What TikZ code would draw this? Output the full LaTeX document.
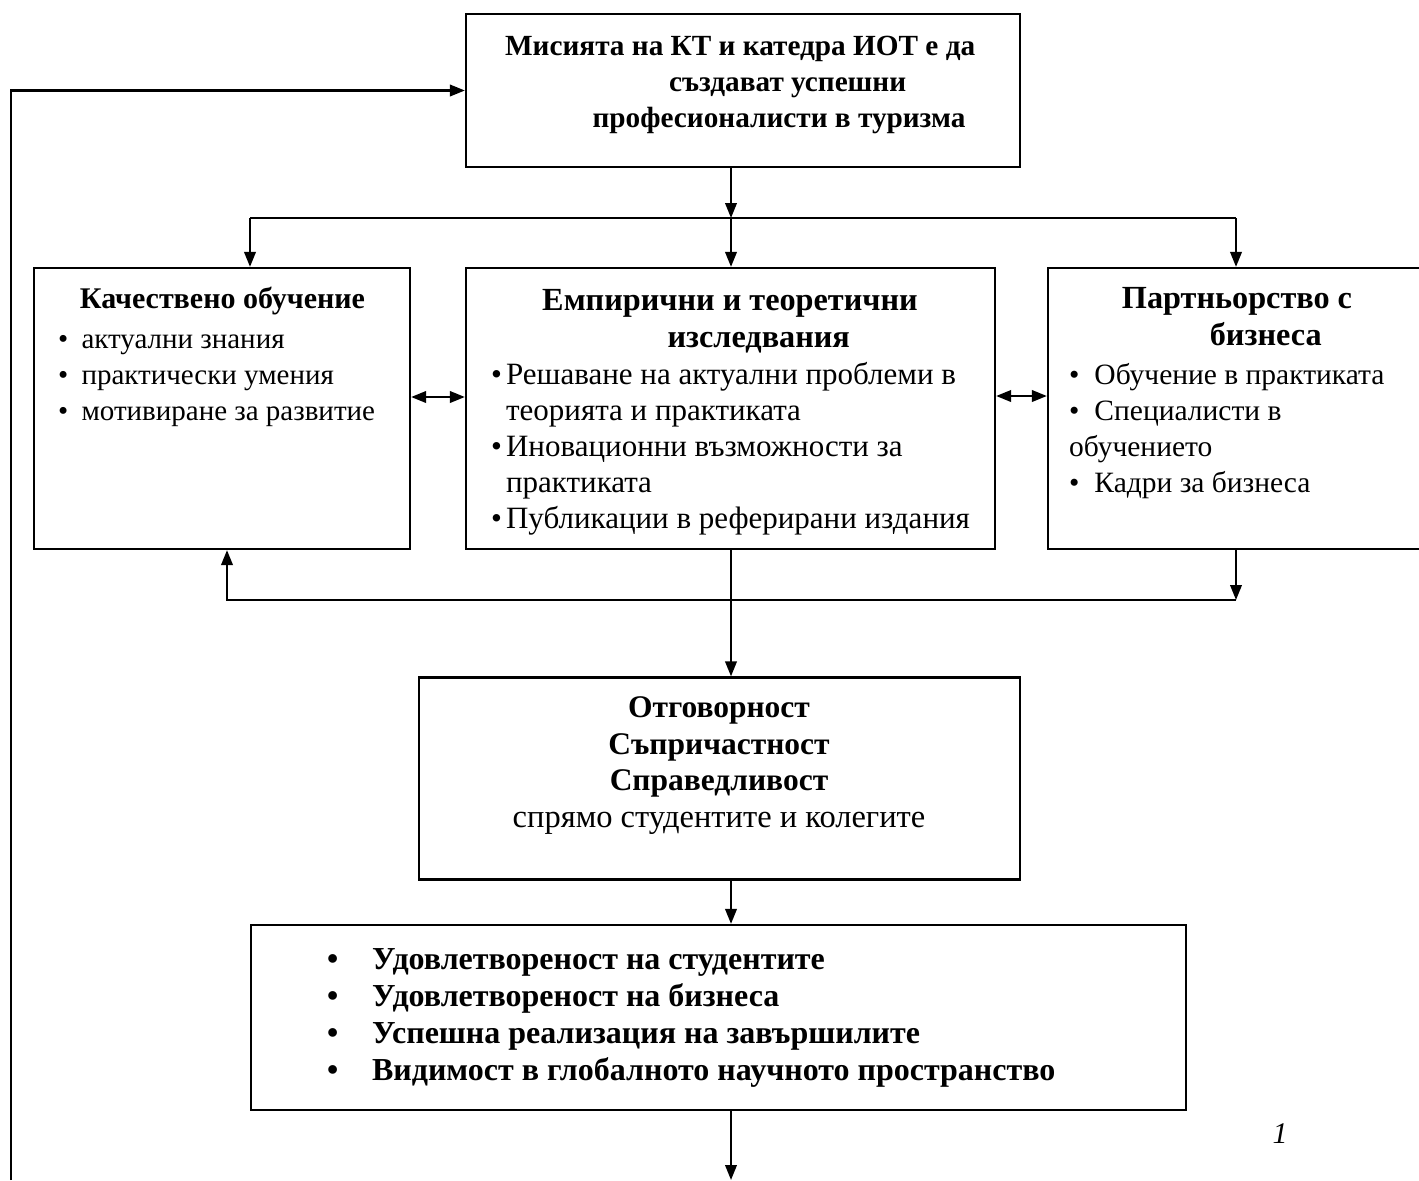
\documentclass[tikz,border=0pt]{standalone}
\usepackage{fontspec}
\setmainfont{Liberation Serif}
\usetikzlibrary{arrows.meta,positioning,calc}

\newcommand{\itm}{\makebox[6pt][l]{•}}

\begin{document}
\begin{tikzpicture} [ % styles first
    x=0.4pt, y=-0.4pt, line width=0.9pt, >={Triangle[length=6pt,width=4.6pt]},
    box/.style = {shape = rectangle, draw, line width=0.9pt, inner sep=0pt},
    head/.style = {shape = rectangle, align = center, inner sep=0pt, font = \fontsize{12.9}{14.8}\selectfont\bfseries},
    head2/.style = {shape = rectangle, align = left, inner sep=0pt, font = \fontsize{12}{14.4}\selectfont\bfseries},
    list/.style = {shape = rectangle, align = left, inner sep=0pt, font = \fontsize{12}{14.4}\selectfont},
    goal/.style = {shape = rectangle, align = left, inner sep=0pt, font = \fontsize{12.8}{14.7}\selectfont\bfseries}
]
\useasboundingbox (0,0) rectangle (1419,1180);

% boxes
\node [box, minimum width=221.6pt, minimum height=61.2pt] (top) at (743,90.5){};
\node [box, minimum width=150.4pt, minimum height=112.4pt] (left) at (222,408.5){};
\node [box, minimum width=211.6pt, minimum height=112.4pt] (mid) at (730.5,408.5){};
\node [box, minimum width=152.8pt, minimum height=112.4pt] (right) at (1239,408.5){};
\node [box, minimum width=240.4pt, minimum height=80.8pt] (resp) at (719.5,778.5){};
\node [box, minimum width=374pt, minimum height=74pt] (outc) at (718.5,1017.5){};

% texts
\node [head2, anchor=base west, font=\fontsize{11.7}{14.4}\selectfont\bfseries] (toptxt) at (504,127){Мисията на КТ и катедра ИОТ е да\\ \hspace*{65.6pt}създават успешни\\ \hspace*{35pt}професионалисти в туризма};

\node [head2, anchor=base] (lefthd) at (222.5,308){Качествено обучение};
\node [list, anchor=base west, font=\fontsize{11.6}{14.4}\selectfont] (leftls) at (57,420){•\hspace{5.3pt}актуални знания\\ •\hspace{5.3pt}практически умения\\ •\hspace{5.3pt}мотивиране за развитие};

\node [head, anchor=base] (midhd) at (730,347){Емпирични и теоретични\\ \hspace*{23pt}изследвания};
\node [list, anchor=base west, font=\fontsize{12.4}{14.4}\selectfont] (midls) at (490,528){\itm Решаване на актуални проблеми в\\ \hspace*{6pt}теорията и практиката\\ \itm Иновационни възможности за\\ \hspace*{6pt}практиката\\ \itm Публикации в реферирани издания};

\node [head, anchor=base] (righthd) at (1237,345){Партньорство с\\ \hspace*{23pt}бизнеса};
\node [list, anchor=base west, font=\fontsize{11.8}{14.4}\selectfont] (rightls) at (1068,492){•\hspace{6pt}Обучение в практиката\\ •\hspace{6pt}Специалисти в\\ обучението\\ •\hspace{6pt}Кадри за бизнеса};

\node [head, anchor=base, font=\fontsize{12.6}{14.6}\selectfont\bfseries] (resptxt) at (719,827){Отговорност\\ Съпричастност\\ Справедливост\\ {\mdseries\fontsize{13}{14.6}\selectfont спрямо студентите и колегите}};

\node [goal, anchor=base west] (outctxt) at (326,1080){•\hspace{13.5pt}Удовлетвореност на студентите\\ •\hspace{13.5pt}Удовлетвореност на бизнеса\\ •\hspace{13.5pt}Успешна реализация на завършилите\\ •\hspace{13.5pt}Видимост в глобалното научното пространство};

\node [anchor=base, inner sep=0pt, font=\fontsize{12}{14}\selectfont\itshape] (fnote) at (1280,1143){1};

% connectors
\coordinate (fork) at (731,218);
\coordinate (forkL) at (250,218);
\coordinate (forkR) at (1236,218);
\coordinate (backR) at (1236,600);
\coordinate (backL) at (227,600);
\coordinate (exitD) at (731,1180);
\coordinate (exitL) at (11,1180);

\draw [->](top.south -| fork)--(fork);
\draw (forkL)--(forkR);
\draw [->](forkL)--(forkL |- left.north);
\draw [->](fork)--(fork |- mid.north);
\draw [->](forkR)--(forkR |- right.north);

\draw [<->]([yshift=4.6pt]left.east)--([yshift=4.6pt]left.east -| mid.west);
\draw [<->]([yshift=5pt]mid.east)--([yshift=5pt]mid.east -| right.west);

\draw [->](right.south -| backR)--(backR);
\draw [->](backR)--(backL)--(backL |- left.south);

\draw [->](mid.south -| fork)--(fork |- resp.north);
\draw [->](resp.south -| fork)--(fork |- outc.north);
\draw [->](outc.south -| fork)--(exitD);
\draw [->](exitL) |- (top.west);

\end{tikzpicture}
\end{document}
